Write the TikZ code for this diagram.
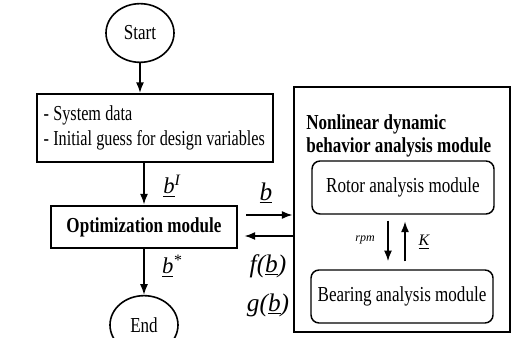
\documentclass[tikz,border=0pt]{standalone}
\usepackage{fontspec}
\setmainfont{Liberation Serif}[FakeStretch=0.8]
\newfontfamily\labfont{Liberation Serif}
\newfontfamily\narrowfont{Liberation Serif}[FakeStretch=0.76]
\usetikzlibrary{arrows.meta,shapes.geometric}
\begin{document}
\begin{tikzpicture}[x=0.75pt,y=-0.75pt,
  txt/.style={font=\fontsize{16}{19}\selectfont},
  btxt/.style={font=\fontsize{16}{19}\selectfont\bfseries},
  box/.style={draw, line width=1.5pt, inner sep=0pt, txt},
  ell/.style={draw, ellipse, line width=1.2pt, minimum width=51pt, minimum height=44pt, inner sep=0pt, txt},
  rbox/.style={draw, rounded corners=6pt, line width=1.1pt, minimum width=136.5pt, minimum height=39.75pt, inner sep=0pt, txt},
  arr/.style={-{Latex[length=8pt,width=6pt]}, line width=1.2pt},
  lab/.style={inner sep=0pt, font=\labfont\fontsize{19}{19}\selectfont\itshape},
  slab/.style={inner sep=0pt, font=\labfont\fontsize{17}{17}\selectfont\itshape}
]
\useasboundingbox (0,0) rectangle (514,338);
\clip (0,0) rectangle (514,338);

% left column
\node[ell] (start) at (140,33) {Start};
\node[box, text width=167pt, inner xsep=5pt, minimum height=51pt, align=left,
  font=\narrowfont\fontsize{16}{19}\selectfont] (sys) at (155,128)
  {\spaceskip=3.2pt\relax\mbox{- System data}\\\mbox{- Initial guess for design variables}};
\node[box, line width=2.2pt, minimum width=139.5pt, minimum height=31.5pt, btxt] (opt) at (144,227) {Optimization module};
\node[ell] (end) at (144,325) {End};

\draw[arr] (start.south) -- (start.south |- sys.north);
\draw[arr] (opt.north |- sys.south) -- (opt.north);
\draw[arr] (opt.south) -- (end.north);

\node[slab] (bI) at (172,186) {\underline{b}\textsuperscript{\itshape I}};
\node[slab] (bs) at (172,266) {\underline{b}\textsuperscript{*}};

% right module
\node[box, line width=2.2pt, minimum width=162pt, minimum height=183.75pt] (dyn) at (402,209.5) {};
\node[anchor=base west, inner sep=0pt, btxt] (t1) at (306,130) {Nonlinear dynamic};
\node[anchor=base west, inner sep=0pt, btxt] (t2) at (306,153) {behavior analysis module};
\node[rbox] (rotor) at (403,187.5) {Rotor analysis module};
\node[rbox] (bearing) at (402,296.5) {Bearing analysis module};

\coordinate (cd) at (388,0);
\coordinate (cu) at (405,0);
\draw[arr, shorten <=4.5pt, shorten >=6pt] (rotor.south -| cd) -- (bearing.north -| cd);
\draw[arr, shorten <=6pt, shorten >=5pt] (bearing.north -| cu) -- (rotor.south -| cu);
\node[inner sep=0pt, font=\labfont\fontsize{9}{9}\selectfont\itshape] (rpm) at (365,240) {rpm};
\node[inner sep=0pt, font=\labfont\fontsize{12}{12}\selectfont\itshape] (K) at (424,242) {\underline{K}};

% exchange arrows
\coordinate (yb) at (0,215);
\coordinate (yf) at (0,236);
\draw[arr, shorten <=6pt] (opt.east |- yb) -- (dyn.west |- yb);
\draw[arr, shorten >=4.5pt] (dyn.west |- yf) -- (opt.east |- yf);
\node[lab] (b) at (266,193) {\underline{b}};
\node[lab] (f) at (268,266) {f(\underline{b})};
\node[lab] (g) at (268,305) {g(\underline{b})};
\end{tikzpicture}
\end{document}
